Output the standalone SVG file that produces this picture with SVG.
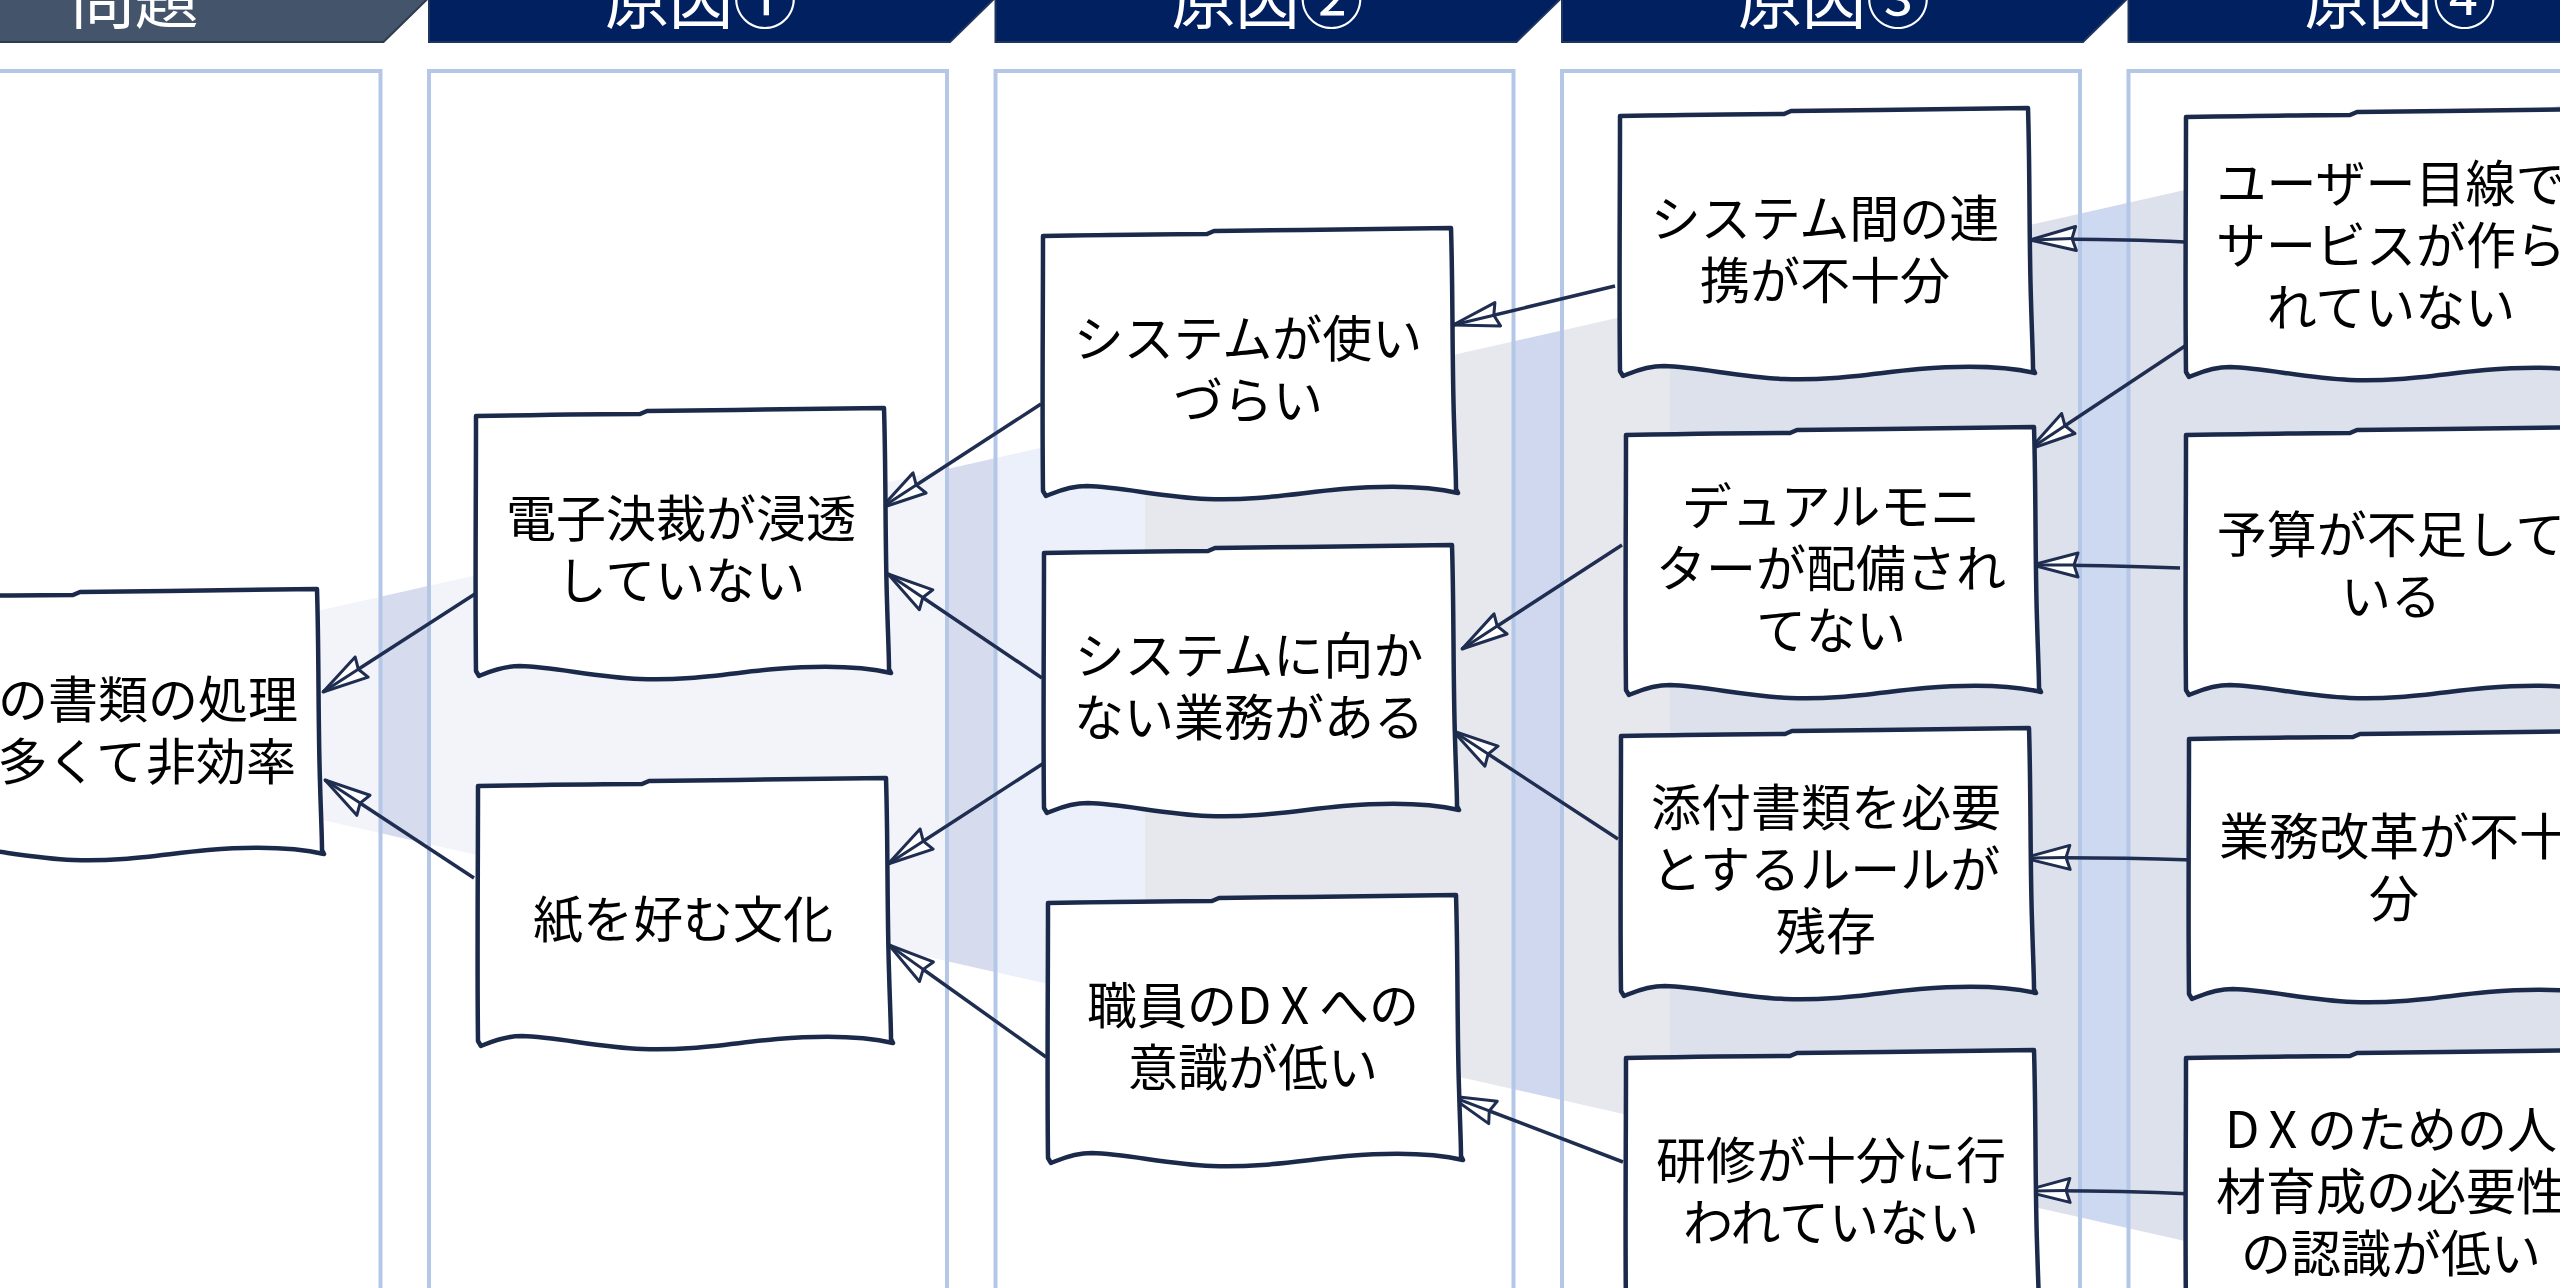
<svg xmlns="http://www.w3.org/2000/svg" xmlns:xlink="http://www.w3.org/1999/xlink" width="2560" height="1288" viewBox="0 0 2560 1288">
<style>
.hdr{fill:#002060;stroke:#1F3460;stroke-width:2}
.hdr0{fill:#44546A;stroke:#2F3B4F;stroke-width:2}
.htx{font-family:"Noto Sans CJK JP","Noto Sans",sans-serif;font-size:64px;fill:#ffffff;text-anchor:middle}
.pnl{fill:none;stroke:#B4C7E7;stroke-width:4}
.box{fill:#ffffff;stroke:#1B2A4A;stroke-width:4.5;stroke-linejoin:round;stroke-linecap:round}
.tx{font-family:"Noto Sans CJK JP","Noto Sans",sans-serif;font-size:50px;fill:#000000;text-anchor:middle}
.txe{font-family:"Noto Sans CJK JP","Noto Sans",sans-serif;font-size:50px;fill:#000000;text-anchor:end}
.dx{letter-spacing:10px}
.cn{fill:none;stroke:#1F2D50;stroke-width:3.5;marker-end:url(#arr)}
</style>
<defs>
<marker id="arr" viewBox="-50 -15 55 30" refX="0" refY="0" markerWidth="55" markerHeight="30" markerUnits="userSpaceOnUse" orient="auto" overflow="visible">
<path d="M0,0 L-46,-12 L-42,0 L-46,12 Z" fill="#ffffff" stroke="#1F2D50" stroke-width="3" stroke-linejoin="round"/>
<path d="M0,0 L-42,0" fill="none" stroke="#1F2D50" stroke-width="3"/>
</marker>
<path id="bx" class="box" d="M1,5 C60,4 120,3 165,3 L172,0 C250,-1 340,-2 409,-3 C411,60 410,130 412,190 C413,225 414,245 414,258 L416,262 C390,256 350,254 300,258 C255,262 215,270 165,268 C120,266 80,256 45,255 C25,255 12,262 4,265 L1,260 C0,180 1,90 1,5 Z"/>
<clipPath id="funnelClip">
<polygon points="200,637.5 2600,96.5 2600,1334.8 200,792.4"/>
</clipPath>
</defs>

<g id="funnel" clip-path="url(#funnelClip)">
<rect x="200" y="0" width="181" height="1400" fill="#F2F4F9"/>
<rect x="381" y="0" width="48" height="1400" fill="#D6DCEE"/>
<rect x="429" y="0" width="518" height="1400" fill="#F2F4F9"/>
<rect x="947" y="0" width="49" height="1400" fill="#D6DCEE"/>
<rect x="996" y="0" width="149" height="1400" fill="#ECF0FA"/>
<rect x="1145" y="0" width="369" height="1400" fill="#E6E8ED"/>
<rect x="1514" y="0" width="48" height="1400" fill="#CFD8EF"/>
<rect x="1562" y="0" width="108" height="1400" fill="#E6E8ED"/>
<rect x="1670" y="0" width="410" height="1400" fill="#DDE1EC"/>
<rect x="2080" y="0" width="48" height="1400" fill="#CDD8F1"/>
<rect x="2128" y="0" width="472" height="1400" fill="#DDE1EC"/>
</g>

<g id="panels">
<rect class="pnl" x="-137.5" y="71" width="518" height="1300"/>
<rect class="pnl" x="429" y="71" width="518" height="1300"/>
<rect class="pnl" x="995.5" y="71" width="518" height="1300"/>
<rect class="pnl" x="1562" y="71" width="518" height="1300"/>
<rect class="pnl" x="2128.5" y="71" width="518" height="1300"/>
</g>

<g id="headers">
<g id="h-mondai">
<polygon class="hdr0" points="-137.5,-5 431.5,-5 383.5,42 -137.5,42"/>
<text class="htx" x="134.5" y="23">問題</text>
</g>
<g id="h-gen1">
<polygon class="hdr" points="429,-5 998,-5 950,42 429,42"/>
<text class="htx" x="701" y="23">原因①</text>
</g>
<g id="h-gen2">
<polygon class="hdr" points="995.5,-5 1564.5,-5 1516.5,42 995.5,42"/>
<text class="htx" x="1267.5" y="23">原因②</text>
</g>
<g id="h-gen3">
<polygon class="hdr" points="1562,-5 2131,-5 2083,42 1562,42"/>
<text class="htx" x="1834" y="23">原因③</text>
</g>
<g id="h-gen4">
<polygon class="hdr" points="2128.5,-5 2697.5,-5 2649.5,42 2128.5,42"/>
<text class="htx" x="2400.5" y="23">原因④</text>
</g>
</g>

<g id="connectors">
<path class="cn" d="M478,592 L323,692"/>
<path class="cn" d="M474,878 L325,780"/>
<path class="cn" d="M1041,404 L881,508"/>
<path class="cn" d="M1042,678 L888,574"/>
<path class="cn" d="M1047,761 L888,864"/>
<path class="cn" d="M1046,1057 L889,945"/>
<path class="cn" d="M1615,286 L1453,325"/>
<path class="cn" d="M1622,545 L1462,649"/>
<path class="cn" d="M1618,839 L1453,731"/>
<path class="cn" d="M1623,1162 L1450,1096"/>
<path class="cn" d="M2185,242 Q2090,238 2030,240"/>
<path class="cn" d="M2188,344 L2030,449"/>
<path class="cn" d="M2180,568 Q2100,565 2032,565"/>
<path class="cn" d="M2193,860 Q2100,857 2024,858"/>
<path class="cn" d="M2193,1194 Q2100,1190 2024,1191"/>
</g>

<g id="n-problem">
<use xlink:href="#bx" href="#bx" transform="translate(-92,592)"/>
<text class="txe"><tspan x="298" y="718">の書類の処理</tspan><tspan x="296" y="780">多くて非効率</tspan></text>
</g>

<g id="n-denshi">
<use xlink:href="#bx" href="#bx" transform="translate(475,411)"/>
<text class="tx"><tspan x="681" y="537">電子決裁が浸透</tspan><tspan x="681" y="599">していない</tspan></text>
</g>

<g id="n-kami">
<use xlink:href="#bx" href="#bx" transform="translate(477,781)"/>
<text class="tx"><tspan x="683" y="938">紙を好む文化</tspan></text>
</g>

<g id="n-tsukaizurai">
<use xlink:href="#bx" href="#bx" transform="translate(1042,231)"/>
<text class="tx"><tspan x="1248" y="357">システムが使い</tspan><tspan x="1248" y="419">づらい</tspan></text>
</g>

<g id="n-mukanai">
<use xlink:href="#bx" href="#bx" transform="translate(1043,548)"/>
<text class="tx"><tspan x="1249" y="674">システムに向か</tspan><tspan x="1249" y="736">ない業務がある</tspan></text>
</g>

<g id="n-shokuin">
<use xlink:href="#bx" href="#bx" transform="translate(1047,898)"/>
<text class="tx"><tspan x="1253" y="1024">職員の<tspan class="dx">DX</tspan>への</tspan><tspan x="1253" y="1086">意識が低い</tspan></text>
</g>

<g id="n-renkei">
<use xlink:href="#bx" href="#bx" transform="translate(1619,111)"/>
<text class="tx"><tspan x="1825" y="237">システム間の連</tspan><tspan x="1825" y="299">携が不十分</tspan></text>
</g>

<g id="n-dual">
<use xlink:href="#bx" href="#bx" transform="translate(1625,430)"/>
<text class="tx"><tspan x="1831" y="525">デュアルモニ</tspan><tspan x="1831" y="587">ターが配備され</tspan><tspan x="1831" y="649">てない</tspan></text>
</g>

<g id="n-tenpu">
<use xlink:href="#bx" href="#bx" transform="translate(1620,731)"/>
<text class="tx"><tspan x="1826" y="826">添付書類を必要</tspan><tspan x="1826" y="888">とするルールが</tspan><tspan x="1826" y="950">残存</tspan></text>
</g>

<g id="n-kenshu">
<use xlink:href="#bx" href="#bx" transform="translate(1625,1053)"/>
<text class="tx"><tspan x="1831" y="1179">研修が十分に行</tspan><tspan x="1831" y="1241">われていない</tspan></text>
</g>

<g id="n-user">
<use xlink:href="#bx" href="#bx" transform="translate(2185,112)"/>
<text class="tx"><tspan x="2391" y="202">ユーザー目線で</tspan><tspan x="2391" y="264">サービスが作ら</tspan><tspan x="2391" y="326">れていない</tspan></text>
</g>

<g id="n-yosan">
<use xlink:href="#bx" href="#bx" transform="translate(2185,430)"/>
<text class="tx"><tspan x="2391" y="553">予算が不足して</tspan><tspan x="2391" y="615">いる</tspan></text>
</g>

<g id="n-kaikaku">
<use xlink:href="#bx" href="#bx" transform="translate(2188,734)"/>
<text class="tx"><tspan x="2394" y="855">業務改革が不十</tspan><tspan x="2394" y="917">分</tspan></text>
</g>

<g id="n-jinzai">
<use xlink:href="#bx" href="#bx" transform="translate(2185,1053)"/>
<text class="tx"><tspan x="2391" y="1148"><tspan class="dx">DX</tspan>のための人</tspan><tspan x="2391" y="1210">材育成の必要性</tspan><tspan x="2391" y="1272">の認識が低い</tspan></text>
</g>
</svg>
